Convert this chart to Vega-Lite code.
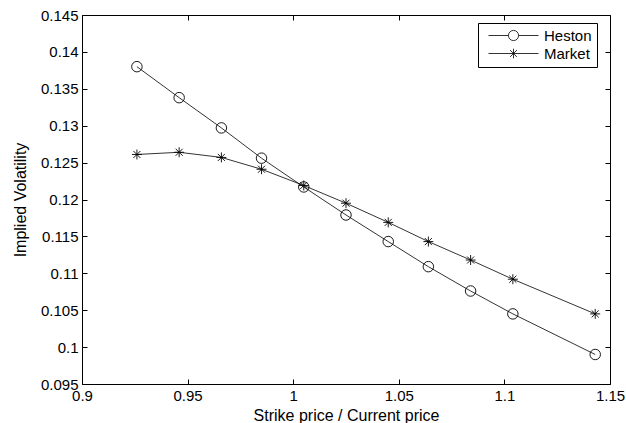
{
  "$schema": "https://vega.github.io/schema/vega-lite/v6.json",
  "width": 528,
  "height": 369,
  "autosize": {"type": "none"},
  "padding": {"left": 82, "top": 15, "right": 16, "bottom": 39},
  "background": "white",
  "config": {
    "font": "Liberation Sans",
    "view": {"stroke": "black", "strokeWidth": 1},
    "axis": {"domain": false, "ticks": true, "zindex": 1, "tickColor": "black", "tickOpacity": 1, "labelColor": "black", "titleColor": "black", "labelFont": "Liberation Sans", "titleFont": "Liberation Sans", "labelFontSize": 15, "titleFontSize": 16, "titleFontWeight": "normal", "grid": false, "tickSize": 5, "tickWidth": 1, "offset": -5, "labelPadding": 4, "labelFlush": false, "labelOverlap": false}
  },
  "data": {"values": [
    {"k": 0.926, "iv": 0.1380, "series": "Heston"},
    {"k": 0.946, "iv": 0.1338, "series": "Heston"},
    {"k": 0.966, "iv": 0.1297, "series": "Heston"},
    {"k": 0.985, "iv": 0.1256, "series": "Heston"},
    {"k": 1.005, "iv": 0.1217, "series": "Heston"},
    {"k": 1.025, "iv": 0.1179, "series": "Heston"},
    {"k": 1.045, "iv": 0.1143, "series": "Heston"},
    {"k": 1.064, "iv": 0.1109, "series": "Heston"},
    {"k": 1.084, "iv": 0.1076, "series": "Heston"},
    {"k": 1.104, "iv": 0.1045, "series": "Heston"},
    {"k": 1.143, "iv": 0.0990, "series": "Heston"},
    {"k": 0.926, "iv": 0.1261, "series": "Market"},
    {"k": 0.946, "iv": 0.1264, "series": "Market"},
    {"k": 0.966, "iv": 0.1257, "series": "Market"},
    {"k": 0.985, "iv": 0.1241, "series": "Market"},
    {"k": 1.005, "iv": 0.1219, "series": "Market"},
    {"k": 1.025, "iv": 0.1195, "series": "Market"},
    {"k": 1.045, "iv": 0.1169, "series": "Market"},
    {"k": 1.064, "iv": 0.1143, "series": "Market"},
    {"k": 1.084, "iv": 0.1118, "series": "Market"},
    {"k": 1.104, "iv": 0.1092, "series": "Market"},
    {"k": 1.143, "iv": 0.1045, "series": "Market"}
  ]},
  "encoding": {
    "x": {"field": "k", "type": "quantitative", "scale": {"domain": [0.9, 1.15], "nice": false, "zero": false}},
    "y": {"field": "iv", "type": "quantitative", "scale": {"domain": [0.095, 0.145], "nice": false, "zero": false}}
  },
  "layer": [
    {
      "mark": {"type": "line", "stroke": "black", "strokeWidth": 0.8},
      "encoding": {
        "detail": {"field": "series"},
        "x": {"field": "k", "type": "quantitative", "title": "Strike price / Current price", "axis": {"values": [0.9, 0.95, 1, 1.05, 1.1, 1.15], "format": "~g", "titlePadding": 4}},
        "y": {"field": "iv", "type": "quantitative", "title": "Implied Volatility", "axis": {"values": [0.095, 0.1, 0.105, 0.11, 0.115, 0.12, 0.125, 0.13, 0.135, 0.14, 0.145], "format": "~g", "titlePadding": 12}}
      }
    },
    {
      "mark": {"type": "point", "filled": false, "stroke": "black", "strokeWidth": 0.9, "size": 110, "opacity": 1},
      "encoding": {
        "x": {"field": "k", "type": "quantitative", "axis": null},
        "y": {"field": "iv", "type": "quantitative", "axis": null},
        "shape": {
          "field": "series", "type": "nominal",
          "scale": {"domain": ["Heston", "Market"], "range": ["circle", "M-0.95,0H0.95M0,-0.95V0.95M-0.67,-0.67L0.67,0.67M-0.67,0.67L0.67,-0.67"]},
          "legend": null
        }
      }
    },
    {
      "transform": [{"filter": "datum.k > 5"}],
      "mark": {"type": "point", "filled": false, "stroke": "black", "strokeWidth": 0.8, "opacity": 1},
      "encoding": {
        "x": {"field": "k", "type": "quantitative", "axis": {"orient": "top", "values": [0.9, 0.95, 1, 1.05, 1.1, 1.15], "labels": false, "title": null}},
        "y": {"field": "iv", "type": "quantitative", "axis": {"orient": "right", "values": [0.095, 0.1, 0.105, 0.11, 0.115, 0.12, 0.125, 0.13, 0.135, 0.14, 0.145], "labels": false, "title": null}},
        "shape": {
          "field": "series", "type": "nominal",
          "scale": {"domain": ["Heston", "Market"], "range": ["M-4.17,0H-0.85M0.85,0H4.17M0.85,0A0.85,0.85,0,1,1,-0.85,0A0.85,0.85,0,1,1,0.85,0", "M-4.17,0H4.17M0,-0.8V0.8M-0.57,-0.57L0.57,0.57M-0.57,0.57L0.57,-0.57"]},
          "legend": {
            "title": null, "orient": "none", "legendX": 396, "legendY": 8,
            "strokeColor": "black", "fillColor": "white", "padding": 5,
            "labelFontSize": 15, "labelFont": "Liberation Sans", "labelColor": "black",
            "symbolSize": 144, "symbolStrokeColor": "black", "symbolStrokeWidth": 0.8, "symbolFillColor": "transparent",
            "rowPadding": 2, "labelOffset": 23, "symbolOffset": 23
          }
        }
      }
    }
  ],
  "resolve": {"axis": {"x": "independent", "y": "independent"}, "scale": {"shape": "independent"}}
}
